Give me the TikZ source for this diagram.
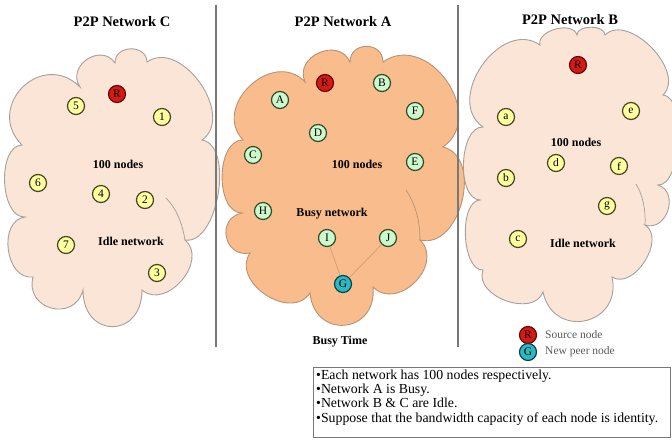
\documentclass[tikz,border=0pt]{standalone}
\usepackage{fontspec}
\setmainfont{Liberation Serif}
\definecolor{peach}{RGB}{251,229,214}
\definecolor{busyfill}{RGB}{249,188,140}
\definecolor{cloudedge}{RGB}{165,160,155}
\definecolor{busyedge}{RGB}{185,145,115}
\definecolor{idleyellow}{RGB}{255,255,160}
\definecolor{idleedge}{RGB}{70,70,30}
\definecolor{busygreen}{RGB}{205,250,205}
\definecolor{greenedge}{RGB}{45,75,45}
\definecolor{srcred}{RGB}{215,25,20}
\definecolor{srcedge}{RGB}{95,10,10}
\definecolor{newteal}{RGB}{45,185,195}
\definecolor{newedge}{RGB}{10,65,75}
\definecolor{divider}{RGB}{120,120,120}
\definecolor{linkline}{RGB}{215,155,110}
\definecolor{legendtext}{RGB}{90,90,90}
\begin{document}
\begin{tikzpicture}[x=1pt,y=-1pt,
  puff/.style={bend left=90,looseness=1.12*#1}, puff/.default=1,
  lightcloud/.style={draw=cloudedge, line width=0.9pt, fill=peach},
  busycloud/.style={draw=busyedge, line width=0.9pt, fill=busyfill},
  innerarc/.style={line width=0.7pt},
  peer/.style={circle, minimum size=17pt, inner sep=0pt, line width=1.2pt,
    font=\fontsize{11.5}{12}\selectfont},
  idlepeer/.style={peer, fill=idleyellow, draw=idleedge},
  busypeer/.style={peer, fill=busygreen, draw=greenedge},
  source/.style={peer, fill=srcred, draw=srcedge},
  newpeer/.style={peer, fill=newteal, draw=newedge},
  title/.style={font=\fontsize{14.5}{17}\selectfont\bfseries},
  note/.style={font=\fontsize{12}{14}\selectfont\bfseries, inner sep=0pt},
  sepline/.style={draw=divider, line width=1.2pt},
  link/.style={draw=linkline, line width=0.7pt},
  legendlabel/.style={anchor=west, inner sep=0pt, text=legendtext,
    font=\fontsize{11.5}{13}\selectfont}
]
\path[fill=white,use as bounding box] (0,0) rectangle (672,441);

% ---- clouds ----
\draw[lightcloud] (22,145) to[puff=1.5] (80,87) to[puff=1.35] (115,63)
  to[puff=1.3] (147,62) to[puff=1.0] (202,140) to[puff=0.75] (185,240)
  to[puff=1.1] (142,290) to[puff=1.9] (83,290) to[puff=1.5] (33,277)
  to[puff=1.05] (25,217) to[puff=0.8] (22,145) -- cycle;
\draw[innerarc, draw=cloudedge] (166,198) .. controls (176,208) and (182,222) .. (185,240);

\draw[busycloud] (243,140) to[puff=1.25] (305,82) to[puff=1.3] (350,62)
  to[puff=1.45] (383,62) to[puff=1.2] (443,147) to[puff=1.0] (420,240)
  to[puff=1.2] (373,287) to[puff=1.7] (310,293) to[puff=1.1] (250,253)
  to[puff=1.5] (242,213) to[puff=0.85] (243,140) -- cycle;
\draw[innerarc, draw=busyedge] (406,190) .. controls (416,205) and (420,222) .. (420,240);

\draw[lightcloud] (483,127) to[puff=1.1] (540,45) to[puff=0.9] (577,35)
  to[puff=0.85] (605,35) to[puff=0.9] (663,95) to[puff=0.6] (658,185)
  to[puff=1.25] (645,225) to[puff=0.95] (612,277) to[puff=1.6] (543,292)
  to[puff=1.0] (483,270) to[puff=0.7] (480,200) to[puff=0.75] (483,127) -- cycle;
\draw[innerarc, draw=cloudedge] (636,184) .. controls (643,195) and (646,212) .. (645,225);

% ---- column dividers ----
\draw[sepline] (216,5) -- (216,347);
\draw[sepline] (458,5) -- (458,347);

% ---- titles ----
\node[title] (titleC) at (122,22) {P2P Network C};
\node[title] (titleA) at (343,22) {P2P Network A};
\node[title] (titleB) at (570,20) {P2P Network B};

% ---- network C ----
\node[note] (countC) at (118,164) {100 nodes};
\node[note] (stateC) at (131,241) {Idle network};
\node[source]   (cR) at (117,94)  {R};
\node[idlepeer] (c5) at (76,106)  {5};
\node[idlepeer] (c1) at (162,117) {1};
\node[idlepeer] (c6) at (38,183)  {6};
\node[idlepeer] (c4) at (101,194) {4};
\node[idlepeer] (c2) at (145,200) {2};
\node[idlepeer] (c7) at (66,245)  {7};
\node[idlepeer] (c3) at (157,273) {3};

% ---- network A ----
\node[note] (countA) at (357,164) {100 nodes};
\node[note] (stateA) at (332,214) {Busy network};
\node[note] (timeA)  at (340,342) {Busy Time};
\node[source]   (aR) at (325,83)  {R};
\node[busypeer] (aB) at (382,83)  {B};
\node[busypeer] (aA) at (280,100) {A};
\node[busypeer] (aF) at (415,111) {F};
\node[busypeer] (aD) at (318,133) {D};
\node[busypeer] (aC) at (253,155) {C};
\node[busypeer] (aE) at (415,162) {E};
\node[busypeer] (aH) at (263,211) {H};
\node[busypeer] (aI) at (327,238) {I};
\node[busypeer] (aJ) at (388,238) {J};
\node[newpeer]  (aG) at (343,284) {G};
\draw[link] (aI) -- (aG);
\draw[link] (aJ) -- (aG);

% ---- network B ----
\node[note] (countB) at (576,142) {100 nodes};
\node[note] (stateB) at (583,243) {Idle network};
\node[source]   (bR) at (578,65)  {R};
\node[idlepeer] (ba) at (506,117) {a};
\node[idlepeer] (be) at (631,111) {e};
\node[idlepeer] (bd) at (556,163) {d};
\node[idlepeer] (bf) at (619,166) {f};
\node[idlepeer] (bb) at (506,178) {b};
\node[idlepeer] (bg) at (607,206) {g};
\node[idlepeer] (bc) at (518,239) {c};

% ---- legend ----
\node[source]  (legR) at (528,335) {R};
\node[newpeer] (legG) at (528,352) {G};
\node[legendlabel] (legRtext) at (545,335) {Source node};
\node[legendlabel] (legGtext) at (545,352) {New peer node};

% ---- notes ----
\node[draw=divider, line width=1.3pt, fill=white, anchor=north west, inner sep=0pt,
  minimum width=357pt, minimum height=70pt] (notebox) at (313,367) {};
\node[anchor=north west, align=left, inner sep=0pt,
  font=\fontsize{13.8}{14.3}\selectfont] (notetext) at (316,369.6)
  {\textbullet Each network has 100 nodes respectively.\\
   \textbullet Network A is Busy.\\
   \textbullet Network B \& C are Idle.\\
   \textbullet Suppose that the bandwidth capacity of each node is identity.};
\end{tikzpicture}
\end{document}
